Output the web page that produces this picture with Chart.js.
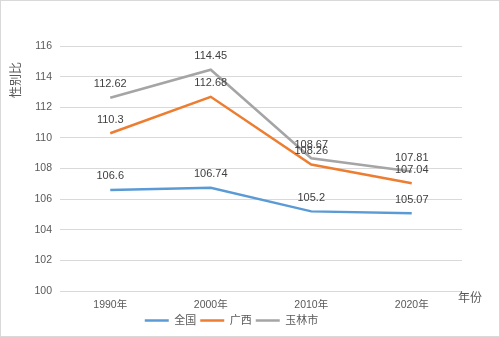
<!DOCTYPE html>
<html>
<head>
<meta charset="utf-8">
<script src="https://cdn.jsdelivr.net/npm/chart.js@4"></script>
<style>
  html, body { margin: 0; padding: 0; background: #fff; }
  #wrap { width: 500px; height: 337px; box-sizing: border-box; border: 1px solid #d9d9d9; position: relative; }
  canvas { position: absolute; left: 0; top: 0; }
</style>
</head>
<body>
<div id="wrap"><canvas id="grafico" width="498" height="335"></canvas></div>
<script>
// dados
const anos = ['1990年', '2000年', '2010年', '2020年'];
const quanguo = [106.6, 106.74, 105.2, 105.07];
const guangxi = [110.3, 112.68, 108.26, 107.04];
const yulin = [112.62, 114.45, 108.67, 107.81];
const yTicks = [100, 102, 104, 106, 108, 110, 112, 114, 116];

const fonte = "'Liberation Sans', 'Noto Sans CJK SC', sans-serif";

// rótulos de valor acima dos pontos + títulos dos eixos
const rotulos = {
  id: 'rotulos',
  afterDatasetsDraw(chart) {
    const c = chart.ctx;
    c.save();
    c.font = '11px ' + fonte;
    c.fillStyle = '#404040';
    c.textAlign = 'center';
    c.textBaseline = 'bottom';
    chart.data.datasets.forEach((ds, i) => {
      chart.getDatasetMeta(i).data.forEach((pt, j) => {
        c.fillText(String(ds.data[j]), pt.x, pt.y - 8);
      });
    });
    c.fillStyle = '#595959';
    c.font = '12px ' + fonte;
    c.textBaseline = 'middle';
    c.fillText('年份', 469, 298);
    c.translate(16, 79);
    c.rotate(-Math.PI / 2);
    c.fillText('性别比', 0, 0);
    c.restore();
  }
};

const ctx = document.getElementById('grafico').getContext('2d');
new Chart(ctx, {
  type: 'line',
  data: {
    labels: anos,
    datasets: [
      { label: '全国', data: quanguo, borderColor: '#5B9BD5', backgroundColor: '#5B9BD5', borderWidth: 2.5 },
      { label: '广西', data: guangxi, borderColor: '#ED7D31', backgroundColor: '#ED7D31', borderWidth: 2.5 },
      { label: '玉林市', data: yulin, borderColor: '#A5A5A5', backgroundColor: '#A5A5A5', borderWidth: 2.5 }
    ]
  },
  options: {
    responsive: false,
    animation: false,
    layout: { padding: { top: 45, left: 0, right: 37, bottom: 0 } },
    elements: {
      line: { tension: 0 },
      point: { radius: 0, hoverRadius: 0 }
    },
    plugins: {
      legend: {
        position: 'bottom',
        labels: {
          usePointStyle: true,
          pointStyle: 'line',
          pointStyleWidth: 24,
          boxHeight: 10,
          padding: 4,
          color: '#595959',
          font: { family: fonte, size: 11 }
        }
      },
      tooltip: { enabled: false }
    },
    scales: {
      x: {
        offset: true,
        afterFit(scale) { scale.height = 20; },
        grid: { display: false, drawTicks: false },
        border: { display: false },
        ticks: { color: '#595959', padding: 8, font: { family: fonte, size: 10.5 } }
      },
      y: {
        min: 100,
        max: 116,
        afterBuildTicks(scale) { scale.ticks = yTicks.map(v => ({ value: v })); },
        afterFit(scale) { scale.width = 59; },
        grid: { color: '#d9d9d9', drawTicks: false },
        border: { display: false },
        ticks: { color: '#595959', padding: 8, font: { family: fonte, size: 10.5 } }
      }
    }
  },
  plugins: [rotulos]
});
</script>
</body>
</html>
